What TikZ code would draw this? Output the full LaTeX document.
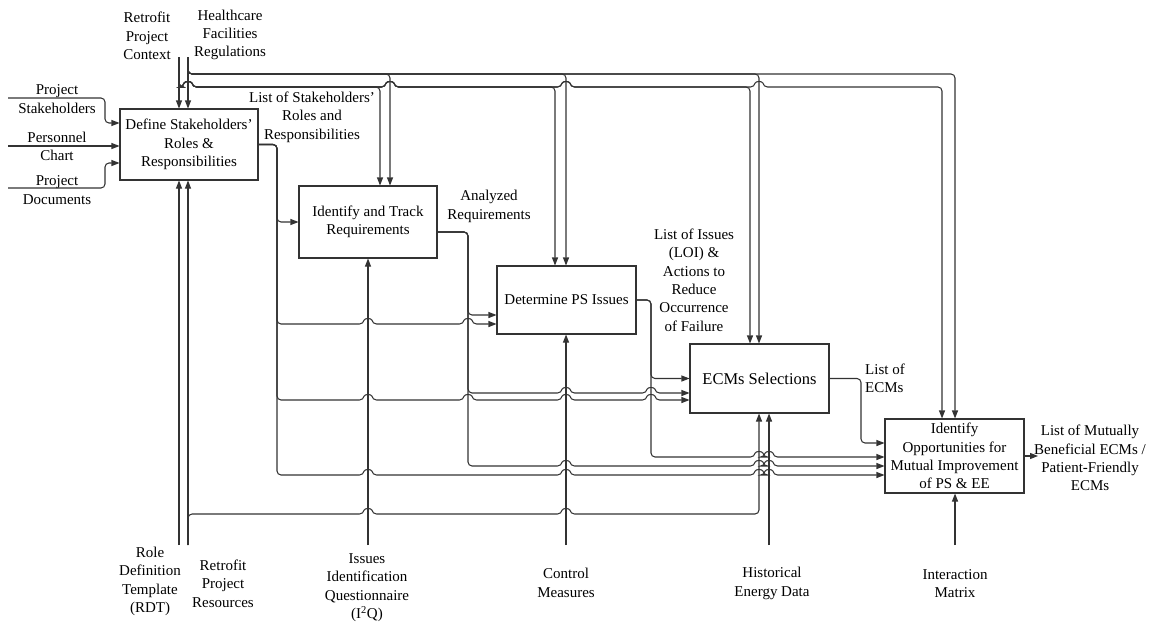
\documentclass[tikz,border=0pt]{standalone}
\usepackage{fontspec}
\setmainfont{Liberation Serif}
\usetikzlibrary{arrows.meta}
\newcommand\hop[2]{-- ({#1-4.5},#2) .. controls ({#1-3.5},{#2-6}) and ({#1+3.5},{#2-6}) .. ({#1+4.5},#2)}
\begin{document}
\begin{tikzpicture}[x=1pt,y=-1pt,
  font=\fontsize{15}{18.4}\selectfont,
  ln/.style={draw=black!80,line width=1.05pt},
  arr/.style={ln,-{Triangle[length=8pt,width=6pt]}},
  rc/.style={rounded corners=4pt},
  box/.style={draw=black!80,line width=1.05pt,align=center,inner sep=2pt},
  lbl/.style={align=center,inner sep=0pt}]
\useasboundingbox (0,0) rectangle (1151,624);
\fill[white] (0,0) rectangle (1151,624);
% boxes
\node[box,minimum width=138pt,minimum height=71pt] (A1) at (189,144.5) {Define Stakeholders'\\Roles \&\\Responsibilities};
\node[box,minimum width=138pt,minimum height=72pt] (A2) at (368,222) {Identify and Track\\Requirements};
\node[box,minimum width=139pt,minimum height=68pt] (A3) at (566.5,300) {Determine PS Issues};
\node[box,minimum width=139pt,minimum height=69pt,font=\fontsize{16.5}{19}\selectfont] (A4) at (759.5,378.5) {ECMs Selections};
\node[box,minimum width=139pt,minimum height=74pt] (A5) at (954.5,456) {Identify\\Opportunities for\\Mutual Improvement\\of PS \& EE};
% labels
\node[lbl] (ctx) at (147,36) {Retrofit\\Project\\Context};
\node[lbl] (hfr) at (230,35) {Healthcare\\Facilities\\Regulations};
\node[lbl] (lps) at (57,99) {Project\\Stakeholders};
\node[lbl] (lpc) at (57,146.5) {Personnel\\Chart};
\node[lbl] (lpd) at (57,190) {Project\\Documents};
\node[lbl] (lsr) at (312,117) {List of Stakeholders'\\Roles and\\Responsibilities};
\node[lbl] (lar) at (489,206.5) {Analyzed\\Requirements};
\node[lbl] (lloi) at (694,280) {List of Issues\\(LOI) \&\\Actions to\\Reduce\\Occurrence\\of Failure};
\node[lbl,align=left,anchor=west] (lecm) at (865,378.5) {List of\\ECMs};
\node[lbl] (lout) at (1090,458) {List of Mutually\\Beneficial ECMs /\\Patient-Friendly\\ECMs};
\node[lbl] (rdt) at (150,581.5) {Role\\Definition\\Template\\(RDT)};
\node[lbl] (rpr) at (223,583.5) {Retrofit\\Project\\Resources};
\node[lbl] (iiq) at (367,587.5) {Issues\\Identification\\Questionnaire\\(I\textsuperscript{2}Q)};
\node[lbl] (cm) at (566,583) {Control\\Measures};
\node[lbl] (hed) at (772,583.5) {Historical\\Energy Data};
\node[lbl] (im) at (955,583.5) {Interaction\\Matrix};
% free ends
\coordinate (ctxT) at (179,57);
\coordinate (hfrT) at (188,57);
\coordinate (inPS) at (8,98);
\coordinate (inPC) at (8,146);
\coordinate (inPD) at (8,188);
\coordinate (rdtB) at (179,545);
\coordinate (rprB) at (188,545);
\coordinate (iiqB) at (368,545);
\coordinate (cmB) at (566,545);
\coordinate (hedB) at (769,545);
\coordinate (imB) at (955,545);
\coordinate (outE) at (1038,456);
% controls
\draw[arr] (ctxT) -- (ctxT |- A1.north);
\draw[arr] (hfrT) -- (hfrT |- A1.north);
\draw[arr,rc] (hfrT) -- (188,74) -- (390,74) -- (A2.north -| 390,0);
\draw[arr,rc] (hfrT) -- (188,74) -- (566,74) -- (A3.north -| 566,0);
\draw[arr,rc] (hfrT) -- (188,74) -- (759,74) -- (A4.north -| 759,0);
\draw[arr,rc] (hfrT) -- (188,74) -- (955,74) -- (A5.north -| 955,0);
\draw[arr,rc] (ctxT) -- (179,87) \hop{188}{87} -- (380,87) -- (A2.north -| 380,0);
\draw[arr,rc] (ctxT) -- (179,87) \hop{188}{87} \hop{390}{87} -- (555,87) -- (A3.north -| 555,0);
\draw[arr,rc] (ctxT) -- (179,87) \hop{188}{87} \hop{390}{87} \hop{566}{87} -- (750,87) -- (A4.north -| 750,0);
\draw[arr,rc] (ctxT) -- (179,87) \hop{188}{87} \hop{390}{87} \hop{566}{87} \hop{759}{87} -- (942,87) -- (A5.north -| 942,0);
% inputs
\draw[arr,rc] (inPS) -- (105,98) -- (105,123) -- (A1.west |- 0,123);
\draw[arr] (inPC) -- (A1.west |- inPC);
\draw[arr,rc] (inPD) -- (105,188) -- (105,163) -- (A1.west |- 0,163);
% mechanisms
\draw[arr] (rdtB) -- (rdtB |- A1.south);
\draw[arr] (rprB) -- (rprB |- A1.south);
\draw[arr,rc] (rprB) -- (188,514) \hop{368}{514} \hop{566}{514} -- (759,514) -- (A4.south -| 759,0);
\draw[arr] (iiqB) -- (iiqB |- A2.south);
\draw[arr] (cmB) -- (cmB |- A3.south);
\draw[arr] (hedB) -- (hedB |- A4.south);
\draw[arr] (imB) -- (imB |- A5.south);
% outputs A1
\draw[arr,rc] (A1.east) -- (277,144.5) -- (277,222) -- (A2.west);
\draw[arr,rc] (A1.east) -- (277,144.5) -- (277,324) \hop{368}{324} \hop{468}{324} -- (A3.west |- 0,324);
\draw[arr,rc] (A1.east) -- (277,144.5) -- (277,400) \hop{368}{400} \hop{468}{400} \hop{566}{400} \hop{651}{400} -- (A4.west |- 0,400);
\draw[arr,rc] (A1.east) -- (277,144.5) -- (277,475) \hop{368}{475} \hop{566}{475} \hop{759}{475} \hop{769}{475} -- (A5.west |- 0,475);
% outputs A2
\draw[arr,rc] (A2.east |- 0,232) -- (468,232) -- (468,315) -- (A3.west |- 0,315);
\draw[arr,rc] (A2.east |- 0,232) -- (468,232) -- (468,393) \hop{566}{393} \hop{651}{393} -- (A4.west |- 0,393);
\draw[arr,rc] (A2.east |- 0,232) -- (468,232) -- (468,466) \hop{566}{466} \hop{759}{466} \hop{769}{466} -- (A5.west |- 0,466);
% outputs A3
\draw[arr,rc] (A3.east) -- (651,300) -- (651,378.5) -- (A4.west);
\draw[arr,rc] (A3.east) -- (651,300) -- (651,457) \hop{759}{457} \hop{769}{457} -- (A5.west |- 0,457);
% output A4
\draw[arr,rc] (A4.east) -- (861,378.5) -- (861,443) -- (A5.west |- 0,443);
% output A5
\draw[arr] (A5.east) -- (outE);
\end{tikzpicture}
\end{document}
